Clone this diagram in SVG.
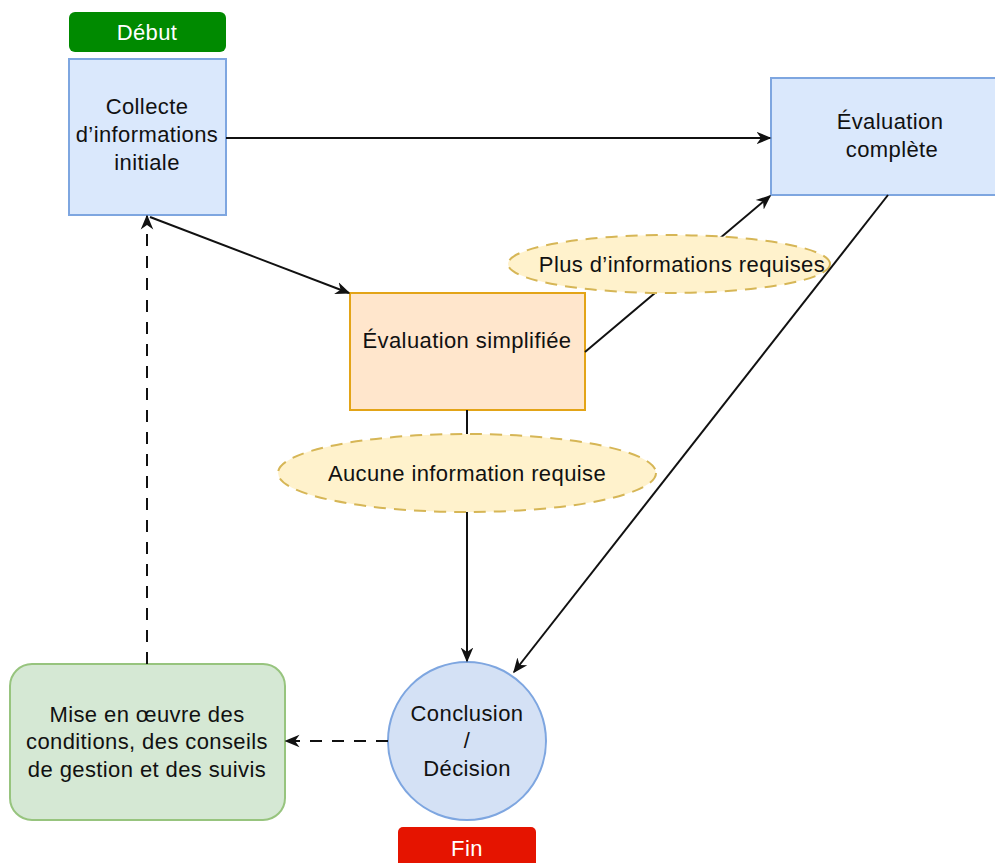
<svg xmlns="http://www.w3.org/2000/svg" width="995" height="863" viewBox="0 0 995 863">
<style>
text{font-family:"Liberation Sans",Arial,sans-serif;font-size:22px;letter-spacing:0.4px;fill:#111;text-anchor:middle}
.w{fill:#fff}
.ln{stroke:#111;stroke-width:2;fill:none}
.da{stroke-dasharray:12 10}
.lbl{fill:#fff2cc;stroke:#d6b656;stroke-width:2;stroke-dasharray:12 8}
</style>
<defs>
<marker id="ar" viewBox="0 0 10 10" refX="9" refY="5" markerWidth="15" markerHeight="15" orient="auto" markerUnits="userSpaceOnUse">
<path d="M0,0.8 L10,5 L0,9.2 L3,5 z" fill="#111"/>
</marker>
</defs>
<rect width="995" height="863" fill="#fff"/>
<g id="debut"><rect x="69" y="12" width="157" height="40" rx="6" fill="#008a00"/><text class="w" x="147" y="40">Début</text></g>
<g id="collecte"><rect x="69" y="59" width="157" height="156" fill="#dae8fc" stroke="#7ea6e0" stroke-width="2"/>
<text x="147" y="114">Collecte</text><text x="147" y="142">d’informations</text><text x="147" y="170">initiale</text></g>
<g id="complete"><rect x="771" y="78" width="230" height="117" fill="#dae8fc" stroke="#7ea6e0" stroke-width="2"/>
<text x="890" y="129">Évaluation</text><text x="892" y="157">complète</text></g>
<g id="simplifiee"><rect x="350" y="293" width="235" height="117" fill="#ffe6cc" stroke="#e3a417" stroke-width="2"/>
<text x="467" y="348">Évaluation simplifiée</text></g>
<g id="conclusion"><circle cx="467" cy="741" r="79" fill="#d4e1f5" stroke="#7ea6e0" stroke-width="2"/>
<text x="467" y="721">Conclusion</text><text x="467" y="748">/</text><text x="467" y="776">Décision</text></g>
<g id="miseenoeuvre"><rect x="10" y="664" width="275" height="156" rx="22" fill="#d5e8d4" stroke="#97c47e" stroke-width="2"/>
<text x="147" y="722">Mise en œuvre des</text><text x="147" y="749">conditions, des conseils</text><text x="147" y="777">de gestion et des suivis</text></g>
<g id="fin"><rect x="398" y="827" width="138" height="45" rx="5" fill="#e51400"/><text class="w" x="467" y="856">Fin</text></g>
<g id="connectors">
<line class="ln" x1="226" y1="138" x2="770" y2="138" marker-end="url(#ar)"/>
<line class="ln" x1="150" y1="217" x2="349" y2="293" marker-end="url(#ar)"/>
<line class="ln" x1="585" y1="352" x2="770" y2="196" marker-end="url(#ar)"/>
<line class="ln" x1="467" y1="410" x2="467" y2="661" marker-end="url(#ar)"/>
<line class="ln da" x1="147" y1="664" x2="147" y2="216" marker-end="url(#ar)"/>
<line class="ln da" x1="388" y1="741" x2="286" y2="741" marker-end="url(#ar)"/>
<g id="label-plus"><ellipse class="lbl" cx="669" cy="264" rx="161" ry="29"/><text x="682" y="272">Plus d’informations requises</text></g>
<g id="label-aucune"><ellipse class="lbl" cx="467" cy="473" rx="189" ry="39"/><text x="467" y="481">Aucune information requise</text></g>
<line class="ln" x1="888" y1="195" x2="514" y2="672" marker-end="url(#ar)"/>
</g>
</svg>
